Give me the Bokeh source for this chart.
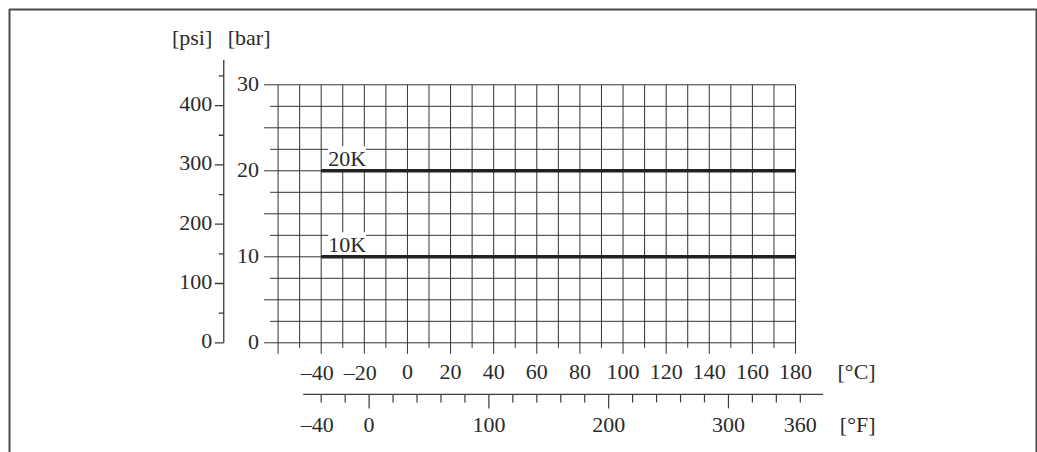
from math import pi
from bokeh.plotting import figure
from bokeh.models import Range1d, Label
from bokeh.core.properties import value
from bokeh.embed import file_html
from bokeh.resources import INLINE

# ---------------- data ----------------
TEMP_C = [-40, 180]
P_20K_BAR = [20, 20]
P_10K_BAR = [10, 10]
RATING_NAMES = ["20K", "10K"]
RATING_LEVELS_BAR = [20, 10]

GRID_C = [-60, -50, -40, -30, -20, -10, 0, 10, 20, 30, 40, 50, 60, 70, 80, 90,
          100, 110, 120, 130, 140, 150, 160, 170, 180]
GRID_BAR = [0, 2.5, 5, 7.5, 10, 12.5, 15, 17.5, 20, 22.5, 25, 27.5, 30]
LABEL_C = [-40, -20, 0, 20, 40, 60, 80, 100, 120, 140, 160, 180]
LABEL_BAR = [0, 10, 20, 30]
TICK_PSI = [0, 50, 100, 150, 200, 250, 300, 350, 400, 450]
LABEL_PSI = [0, 100, 200, 300, 400]
TICK_F = [-40, -20, 0, 20, 40, 60, 80, 100, 120, 140, 160, 180, 200, 220, 240,
          260, 280, 300, 320, 340, 360]
LABEL_F = [-40, 0, 100, 200, 300, 360]

# ---------------- layout / style ----------------
W, H = 1037, 452
PX_PER_C = 2.156
PX_PER_BAR = 8.6
PSI_PER_BAR = 14.5038
ANCHOR_C, ANCHOR_PX = -40, 320.7       # canvas x of -40 degC
ZERO_BAR_PY = 342.3                    # canvas y of 0 bar

X_START = ANCHOR_C - ANCHOR_PX / PX_PER_C
X_END = X_START + W / PX_PER_C
Y_END = ZERO_BAR_PY / PX_PER_BAR
Y_START = Y_END - H / PX_PER_BAR


def px_to_c(px):
    return X_START + px / PX_PER_C


def py_to_bar(py):
    return Y_END - py / PX_PER_BAR


# page frame (left / top / right) positions on the canvas
FRAME_L, FRAME_T, FRAME_R = 9, 9, 1036

PSI_AXIS_C = -85.2      # position of the psi axis (in degC)
PSI_AXIS_TOP = 477      # psi
F_AXIS_BAR = -6.0       # position of the degF axis (in bar)
F_AXIS_FROM, F_AXIS_TO = -55, 379

FONT_NAME = "Liberation Serif"
FONT = value(FONT_NAME)
FS = "22px"
TXT = "#2a2a2a"
GRID_COL = "#333333"
AX_COL = "#3a3a3a"
DY = -7   # baseline correction (px)


def fmt(v):
    return ("\u2013" + str(-v)) if v < 0 else str(v)


p = figure(width=W, height=H, output_backend="svg", toolbar_location=None, tools="",
           x_range=Range1d(X_START, X_END), y_range=Range1d(Y_START, Y_END),
           x_axis_location=None, y_axis_location=None, min_border=0,
           outline_line_color=None, background_fill_color="white",
           border_fill_color="white")
p.grid.grid_line_color = None
p.extra_y_ranges = {"psi": Range1d(Y_START * PSI_PER_BAR, Y_END * PSI_PER_BAR)}
p.extra_x_ranges = {"F": Range1d(X_START * 1.8 + 32, X_END * 1.8 + 32)}

# page frame (three sides)
p.line(x=[px_to_c(FRAME_L), px_to_c(FRAME_L), px_to_c(FRAME_R), px_to_c(FRAME_R)],
       y=[Y_START, py_to_bar(FRAME_T), py_to_bar(FRAME_T), Y_START],
       line_width=2, line_color="#4a4a4a")

# grid (drawn underneath the rating labels' white boxes)
c_lo, c_hi = min(GRID_C), max(GRID_C)
b_lo, b_hi = min(GRID_BAR), max(GRID_BAR)
p.segment(x0=GRID_C, y0=b_lo, x1=GRID_C, y1=b_hi, line_color=GRID_COL, line_width=1,
          level="underlay")
p.segment(x0=c_lo, y0=GRID_BAR, x1=c_hi, y1=GRID_BAR, line_color=GRID_COL, line_width=1,
          level="underlay")
# grid extensions acting as ticks
p.ray(x=GRID_C, y=b_lo, length=[11 if c % 20 == 0 else 5 for c in GRID_C],
      length_units="screen", angle=-pi / 2, line_color=GRID_COL, line_width=1)
p.ray(x=c_lo, y=GRID_BAR, length=[14 if b % 5 == 0 else 8 for b in GRID_BAR],
      length_units="screen", angle=pi, line_color=GRID_COL, line_width=1)

# rating labels with white boxes (between grid and rating lines)
for name, lvl in zip(RATING_NAMES, RATING_LEVELS_BAR):
    p.add_layout(Label(x=TEMP_C[0], y=lvl, text=name, x_offset=7, y_offset=5 - DY,
                       text_font=FONT_NAME, text_font_size=FS, text_color=TXT,
                       text_baseline="alphabetic", text_align="left",
                       background_fill_color="white", level="underlay"))

# rating lines
p.line(TEMP_C, P_20K_BAR, line_width=3.5, line_color="#222222")
p.line(TEMP_C, P_10K_BAR, line_width=3.5, line_color="#222222")

# bar labels
p.text(x=c_lo, y=LABEL_BAR, text=[fmt(v) for v in LABEL_BAR], x_offset=-19,
       y_offset=6.5 + DY, text_align="right", text_baseline="alphabetic",
       text_font=FONT, text_font_size=FS, text_color=TXT)

# degC labels
p.text(x=LABEL_C, y=b_lo, text=[fmt(v) for v in LABEL_C],
       x_offset=[-4 if v < 0 else 0 for v in LABEL_C], y_offset=36.6 + DY,
       text_align="center", text_baseline="alphabetic", text_font=FONT,
       text_font_size=FS, text_color=TXT)
p.text(x=[max(LABEL_C)], y=[b_lo], text=["[°C]"], x_offset=42, y_offset=35.8 + DY,
       text_align="left", text_baseline="alphabetic", text_font=FONT,
       text_font_size=FS, text_color=TXT)

# psi axis
p.segment(x0=PSI_AXIS_C, y0=0, x1=PSI_AXIS_C, y1=PSI_AXIS_TOP, y_range_name="psi",
          line_color=AX_COL, line_width=1.3)
p.ray(x=PSI_AXIS_C, y=TICK_PSI, y_range_name="psi",
      length=[9 if v % 100 == 0 else 5 for v in TICK_PSI], length_units="screen",
      angle=pi, line_color=AX_COL, line_width=1.3)
p.text(x=PSI_AXIS_C, y=LABEL_PSI, y_range_name="psi", text=[fmt(v) for v in LABEL_PSI],
       x_offset=-11.5, y_offset=5.5 + DY, text_align="right", text_baseline="alphabetic",
       text_font=FONT, text_font_size=FS, text_color=TXT)
p.text(x=[PSI_AXIS_C], y=[PSI_AXIS_TOP], y_range_name="psi", text=["[psi]"],
       x_offset=-11.5, y_offset=-15.5 + DY, text_align="right", text_baseline="alphabetic",
       text_font=FONT, text_font_size=FS, text_color=TXT)
p.text(x=[PSI_AXIS_C], y=[PSI_AXIS_TOP], y_range_name="psi", text=["[bar]"],
       x_offset=4, y_offset=-15.5 + DY, text_align="left", text_baseline="alphabetic",
       text_font=FONT, text_font_size=FS, text_color=TXT)

# degF axis
p.segment(x0=F_AXIS_FROM, y0=F_AXIS_BAR, x1=F_AXIS_TO, y1=F_AXIS_BAR, x_range_name="F",
          line_color=AX_COL, line_width=1.3)
p.ray(x=TICK_F, y=F_AXIS_BAR, x_range_name="F",
      length=[14 if v % 100 == 0 else 8 for v in TICK_F], length_units="screen",
      angle=-pi / 2, line_color=AX_COL, line_width=1.2)
p.text(x=LABEL_F, y=F_AXIS_BAR, x_range_name="F", text=[fmt(v) for v in LABEL_F],
       x_offset=[-4 if v < 0 else 0 for v in LABEL_F], y_offset=37.3 + DY,
       text_align="center", text_baseline="alphabetic",
       text_font=FONT, text_font_size=FS, text_color=TXT)
p.text(x=[max(LABEL_F)], y=[F_AXIS_BAR], x_range_name="F", text=["[°F]"],
       x_offset=39.5, y_offset=37.3 + DY, text_align="left", text_baseline="alphabetic",
       text_font=FONT, text_font_size=FS, text_color=TXT)

open("out.html", "w").write(file_html(p, INLINE))
